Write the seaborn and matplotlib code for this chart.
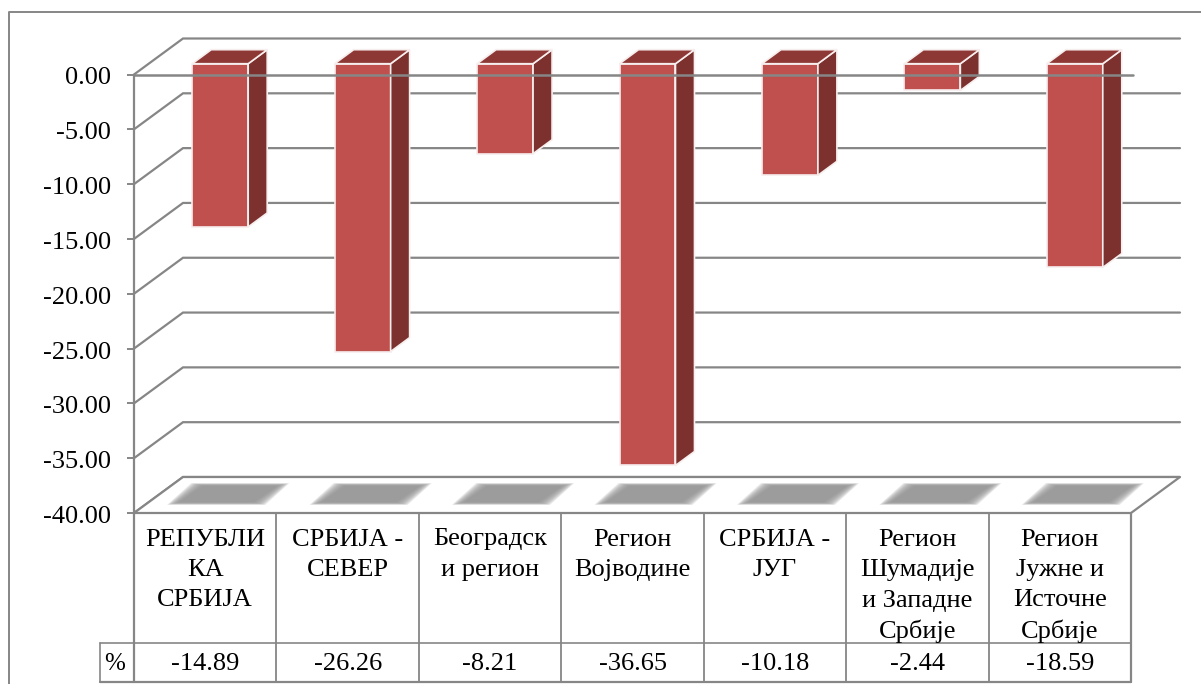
import numpy as np
import pandas as pd
import matplotlib
matplotlib.use('Agg')
import matplotlib.pyplot as plt
import matplotlib.transforms as mtrans
import seaborn as sns
from matplotlib.patches import Polygon

# values from the chart
regions = ['РЕПУБЛИ\nКА\nСРБИЈА', 'СРБИЈА -\nСЕВЕР', 'Београдск\nи регион', 'Регион\nВојводине',
           'СРБИЈА -\nЈУГ', 'Регион\nШумадије\nи Западне\nСрбије', 'Регион\nЈужне и\nИсточне\nСрбије']
percent = [-14.89, -26.26, -8.21, -36.65, -10.18, -2.44, -18.59]
y_ticks = [0, -5, -10, -15, -20, -25, -30, -35, -40]
row_name = '%'

W, H = 1201, 684
LEFT, RIGHT, TOP, BOTTOM = 134, 1131, 74.5, 513
GREY = '#868686'
FRONT, SIDE, CAP = '#C0504D', '#7C312F', '#8E3836'
LINE = 1.6

sns.set_theme(style='white')
plt.rcParams['font.family'] = ['Liberation Serif', 'DejaVu Serif']
FS = 19

fig = plt.figure(figsize=(W / 100, H / 100), dpi=100)
ax = fig.add_axes([LEFT / W, 1 - BOTTOM / H, (RIGHT - LEFT) / W, (BOTTOM - TOP) / H])

df = pd.DataFrame({'region': regions, 'percent': percent})
sns.barplot(data=df, x='region', y='percent', color=FRONT, saturation=1, width=0.393, ax=ax, zorder=3)

ax.set_xlim(-0.5, 6.5)
ax.set_ylim(-40, 0)
ax.autoscale(False)

# pixel sizes turned into data units
ux = (RIGHT - LEFT) / 7
uy = (BOTTOM - TOP) / 40
wall_x, wall_y = 49 / ux, 36 / uy
bar_x, bar_y = 15 / ux, 10.8 / uy
deep_x, deep_y = 19 / ux, 14 / uy

# back wall and slanted grid lines
for t in y_ticks:
    ax.plot([-0.5, -0.5 + wall_x, 6.5 + wall_x], [t, t + wall_y, t + wall_y],
            color=GREY, lw=LINE, zorder=1, clip_on=False, solid_joinstyle='miter')

# floor
floor = Polygon([(-0.5, -40), (-0.5 + wall_x, -40 + wall_y), (6.5 + wall_x, -40 + wall_y), (6.5, -40)],
                closed=True, facecolor='white', edgecolor=GREY, lw=LINE, zorder=1.5, clip_on=False)
ax.add_patch(floor)

# soft shadows on the floor, stacked thin layers fake the blur
for i in range(len(regions)):
    for grow in [1.14, 1.11, 1.08, 1.05, 1.02, 0.99, 0.96, 0.93, 0.90, 0.87]:
        cx = i + 23 / ux
        cy = -40 + 19 / uy
        hw, hh, skew = 43 / ux * grow, 9.5 / uy * grow, 12 / ux
        shadow = Polygon([(cx - hw - skew, cy - hh), (cx - hw + skew, cy + hh),
                          (cx + hw + skew, cy + hh), (cx + hw - skew, cy - hh)],
                         closed=True, facecolor='#939393', edgecolor='none', alpha=0.2,
                         zorder=2, clip_on=False)
        ax.add_patch(shadow)

# move the seaborn bars to mid depth and add side and top faces
for bar in ax.patches:
    if bar.get_zorder() != 3:
        continue
    x0 = bar.get_x() + bar_x
    w = bar.get_width()
    h = bar.get_height()
    bar.set_x(x0)
    bar.set_y(bar_y)
    bar.set_edgecolor('#f7eeee')
    bar.set_linewidth(1.2)
    bar.set_clip_on(False)
    x1 = x0 + w
    y_top = bar_y
    y_low = bar_y + h
    ax.add_patch(Polygon([(x1, y_top), (x1 + deep_x, y_top + deep_y), (x1 + deep_x, y_low + deep_y), (x1, y_low)],
                         closed=True, facecolor=SIDE, edgecolor='#f7eeee', lw=1.2, zorder=3, clip_on=False))
    ax.add_patch(Polygon([(x0, y_top), (x0 + deep_x, y_top + deep_y), (x1 + deep_x, y_top + deep_y), (x1, y_top)],
                         closed=True, facecolor=CAP, edgecolor='#f7eeee', lw=1.2, zorder=3, clip_on=False))

# zero line goes over the bars
ax.plot([-0.5, 6.5 + 2 / ux], [0, 0], color=GREY, lw=1.8, zorder=5, clip_on=False)

ax.set_yticks(y_ticks)
ax.set_yticklabels([f'{t:.2f}' for t in y_ticks], fontsize=FS, color='black')
ax.tick_params(axis='y', left=True, length=5, width=1.4, color=GREY, pad=11.5)
nudge = mtrans.ScaledTranslation(0, -1.5 / 100, fig.dpi_scale_trans)
for lab in ax.get_yticklabels():
    lab.set_transform(lab.get_transform() + nudge)
ax.set_xticks([])
ax.set_xlabel('')
ax.set_ylabel('')
ax.grid(False)
ax.patch.set_alpha(0)
sns.despine(ax=ax, top=True, right=True, bottom=True)
ax.spines['left'].set_color(GREY)
ax.spines['left'].set_linewidth(LINE)
ax.spines['left'].set_zorder(2.5)

# overlay in pixel coordinates for the frame and the data table
ov = fig.add_axes([0, 0, 1, 1], zorder=-1)
ov.set_xlim(0, W)
ov.set_ylim(H, 0)
ov.axis('off')
ov.plot([9, 9, W], [H, 11.5, 11.5], color=GREY, lw=1.4)

tb = fig.add_axes([0, 0, 1, 1], zorder=3)
tb.set_xlim(0, W)
tb.set_ylim(H, 0)
tb.axis('off')
tb.patch.set_alpha(0)
row_top, row_mid, row_low = BOTTOM, 643, 681.5
col_w = (RIGHT - LEFT) / 7
for i in range(8):
    x = LEFT + i * col_w
    tb.plot([x, x], [row_top, row_low], color=GREY, lw=LINE if i in (0, 7) else 1.3)
tb.plot([LEFT, RIGHT], [row_top, row_top], color=GREY, lw=1.3)
tb.plot([100, RIGHT], [row_mid, row_mid], color=GREY, lw=1.2)
tb.plot([100, RIGHT], [row_low, row_low], color=GREY, lw=LINE)
tb.plot([100, 100], [row_mid, row_low], color=GREY, lw=1.2)
tb.text(115, 664, row_name, ha='center', va='center', fontsize=FS - 1, color='black')
for i, (name, val) in enumerate(zip(regions, percent)):
    xc = LEFT + (i + 0.5) * col_w
    for k, line in enumerate(name.split('\n')):
        tb.text(xc, 539.5 + k * 30.5, line, ha='center', va='center', fontsize=FS, color='black')
    tb.text(xc, 664, f'{val:.2f}', ha='center', va='center', fontsize=FS, color='black')

fig.savefig('out.png', dpi=100, facecolor='white')
